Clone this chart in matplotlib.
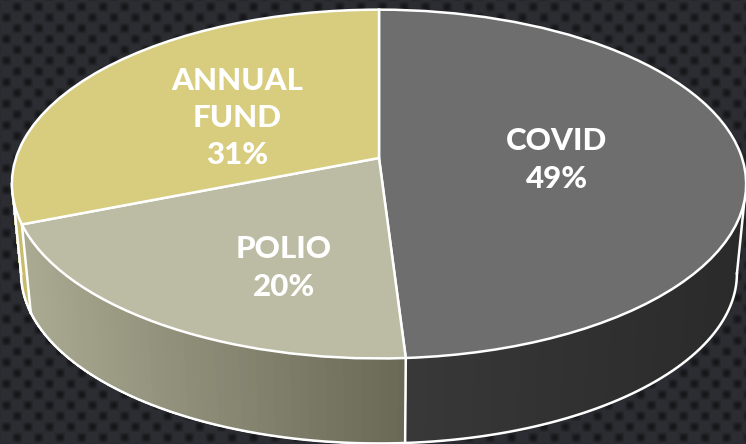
"""Tilted 3D-looking pie of fund shares on a dark dotted background."""

import matplotlib.pyplot as plt
import numpy as np
from matplotlib.collections import PolyCollection
from matplotlib.colors import to_rgb
from matplotlib.transforms import Transform

labels = ["COVID", "POLIO", "ANNUAL\nFUND"]
shares = [49, 20, 31]
top_colors = ["#6e6e6e", "#bcbca4", "#d8cc7e"]
wall_left_colors = ["#2a2a2a", "#aaaa92", "#c8bc6c"]
wall_right_colors = ["#383838", "#6a6957", "#c8bc6c"]
label_pos = [(557, 160), (284, 268), (237, 118)]

# pie geometry in pixels
TILT = 0.1494
APEX_TOP = (379, 158)
APEX_BOTTOM = (379, 248)
BOTTOM_SCALE = 0.975
TANGENT_ANGLES = (98.6, 261.4)


class Tilt(Transform):
    """Perspective view of the unit circle, far side squeezed."""

    input_dims = 2
    output_dims = 2
    is_separable = False

    def __init__(self, apex, scale=1.0):
        super().__init__()
        self.apex = apex
        self.scale = scale

    def transform_non_affine(self, values):
        values = np.asarray(values, dtype=float)
        w = 1 + TILT * values[:, 1]
        x = self.apex[0] + self.scale * 363 * values[:, 0] / w
        y = self.apex[1] - self.scale * 170.5 * values[:, 1] / w
        return np.column_stack([x, y])


def rim(transform, degrees):
    # angles run clockwise from 12 o'clock
    rad = np.radians(degrees)
    return transform.transform_non_affine(np.column_stack([np.sin(rad), np.cos(rad)]))


def dotted_background():
    yy, xx = np.mgrid[0:444, 0:746]
    wave = np.cos((xx - 6) * np.pi / 10.75) * np.cos((yy - 18) * np.pi / 10.75)
    light = 1 - 0.5 * np.clip(wave, 0, 1)
    return np.dstack([light * 44, light * 45, light * 50]).astype(np.uint8)


fig = plt.figure(figsize=(7.46, 4.44), dpi=100)
ax = fig.add_axes([0, 0, 1, 1])
ax.imshow(dotted_background(), extent=(0, 746, 444, 0), zorder=0, interpolation="bilinear")

wedges, _ = ax.pie(
    shares,
    colors=top_colors,
    startangle=90,
    counterclock=False,
    wedgeprops={"edgecolor": "white", "linewidth": 1.8},
)

top = Tilt(APEX_TOP)
bottom = Tilt(APEX_BOTTOM, BOTTOM_SCALE)

for wedge in wedges:
    wedge.set_transform(top + ax.transData)
    wedge.set_zorder(5)

# side wall, drawn as thin strips so the shade can change along the rim
edges = np.cumsum([0] + shares) * 3.6
for i in range(len(shares)):
    start = max(edges[i], TANGENT_ANGLES[0])
    stop = min(edges[i + 1], TANGENT_ANGLES[1])
    angles = np.linspace(start, stop, 60)
    upper = rim(top, angles)
    lower = rim(bottom, angles)
    polys = [
        [upper[j], upper[j + 1], lower[j + 1], lower[j]] for j in range(len(angles) - 1)
    ]
    xs = upper[:-1, 0]
    t = ((xs - xs.min()) / (xs.max() - xs.min()))[:, None]
    left, right = np.array(to_rgb(wall_left_colors[i])), np.array(to_rgb(wall_right_colors[i]))
    if i == 0:
        # covid wall gets darker towards the right
        left, right = right, left
    shades = left + (right - left) * t
    ax.add_collection(
        PolyCollection(polys, facecolors=shades, edgecolors=shades, linewidths=0.8, antialiaseds=False, zorder=2)
    )
    ax.plot(lower[:, 0], lower[:, 1], color="white", lw=1.8, zorder=3)

for angle in [edges[1], edges[2], *TANGENT_ANGLES]:
    upper = rim(top, [angle])[0]
    lower = rim(bottom, [angle])[0]
    ax.plot([upper[0], lower[0]], [upper[1], lower[1]], color="white", lw=1.8, zorder=3)

for label, share, (x, y) in zip(labels, shares, label_pos):
    ax.text(
        x, y, f"{label}\n{share}%",
        color="white", fontsize=22.5, fontweight=900, family="Lato",
        ha="center", va="center", linespacing=1.4, zorder=6,
    )

ax.set_aspect("auto")
ax.set_xlim(0, 746)
ax.set_ylim(444, 0)
ax.axis("off")

fig.savefig("out.png", dpi=100)
